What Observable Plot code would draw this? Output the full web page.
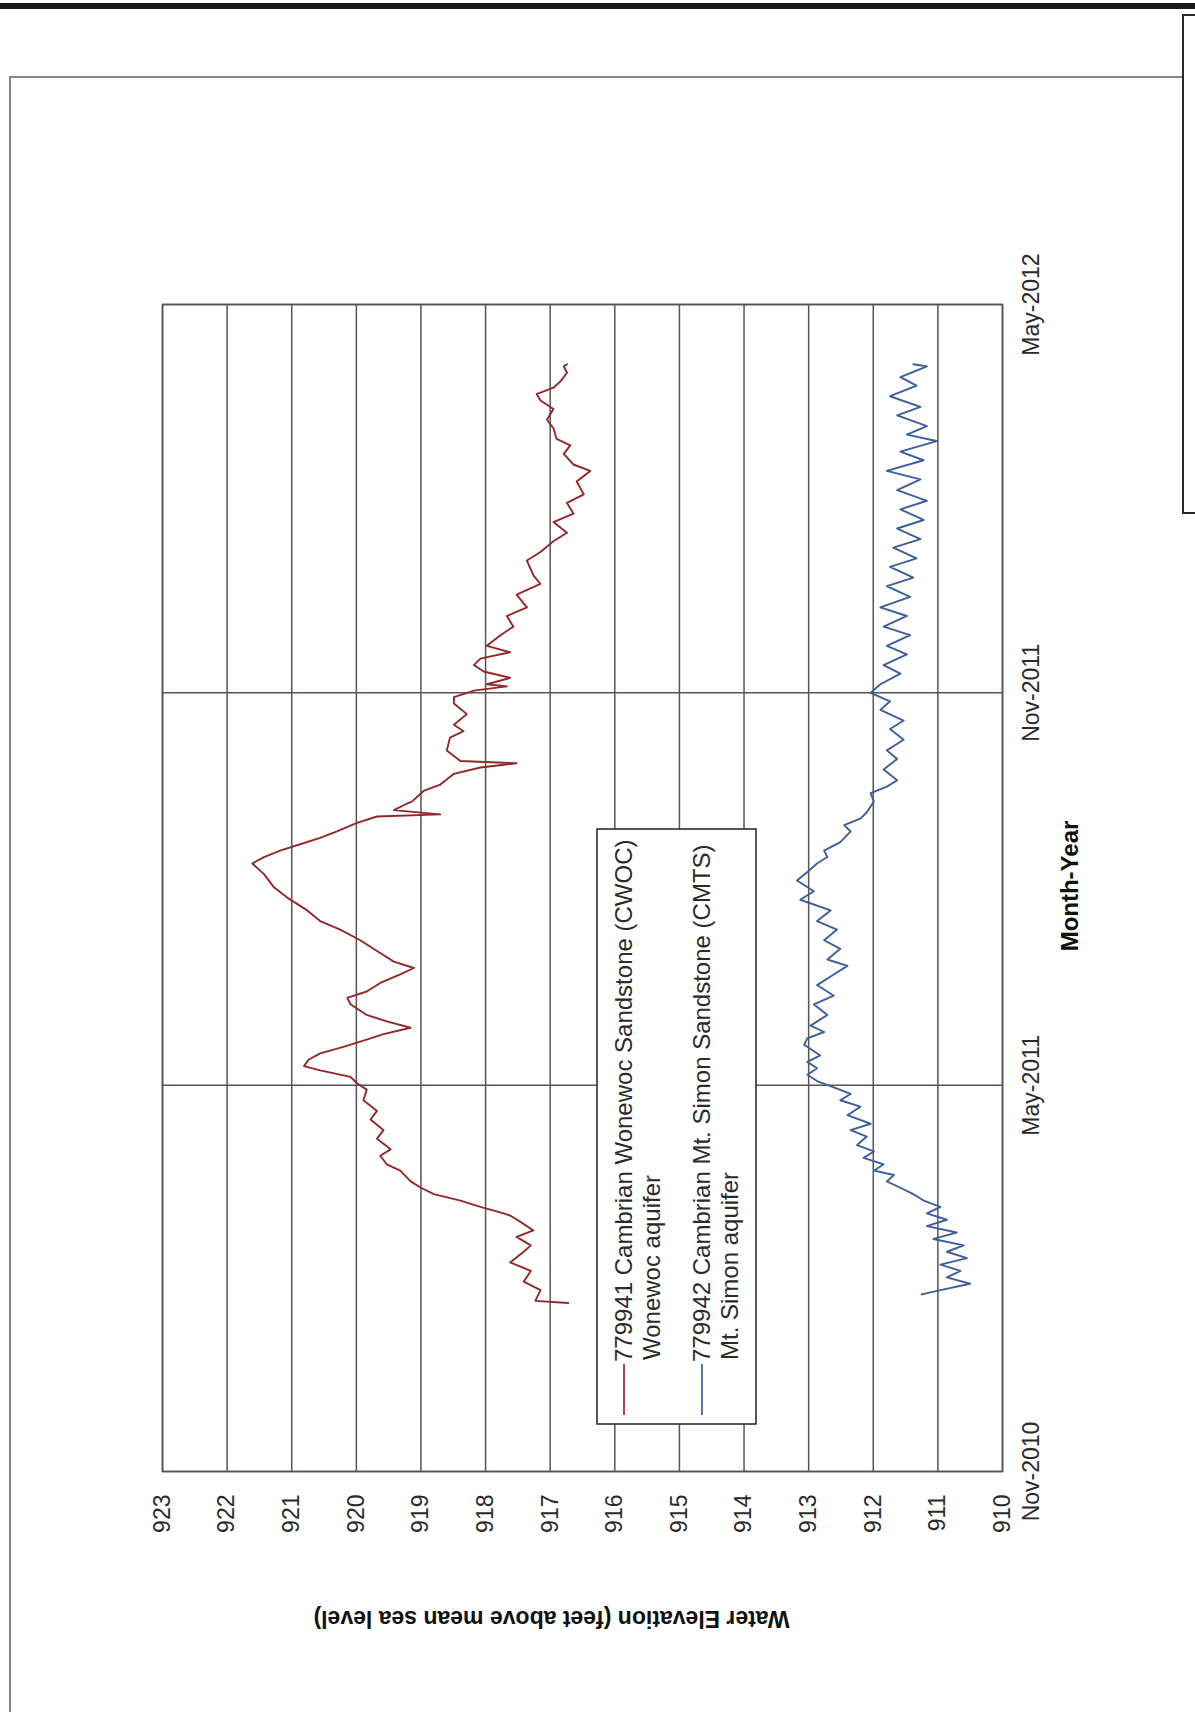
<!DOCTYPE html>
<html>
<head>
<meta charset="utf-8">
<script src="https://cdn.jsdelivr.net/npm/d3@7"></script>
<script src="https://cdn.jsdelivr.net/npm/@observablehq/plot@0.6"></script>
<style>
  html, body { margin: 0; padding: 0; background: #fff; }
  #page { position: relative; width: 1195px; height: 1712px; overflow: hidden; background: #fff;
          font-family: "Liberation Sans", Arial, sans-serif; }
  /* the landscape chart is turned a quarter turn counter-clockwise onto the portrait page */
  #chart { position: absolute; left: 0; top: 0; width: 1712px; height: 1195px;
           transform-origin: 0 0; transform: translate(0, 1712px) rotate(-90deg); }
  .topbar { position: absolute; left: 0; top: 3px; width: 1195px; height: 6px; background: #1b1b1b; }
  .frame { position: absolute; left: 9px; top: 76px; width: 1172px; height: 1660px;
           border-top: 2px solid #858585; border-left: 2px solid #858585; }
  .sidebox { position: absolute; left: 1182px; top: 14px; width: 40px; height: 496px; border: 2px solid #2a2a2a; }
</style>
</head>
<body>
<div id="page">
  <div id="chart"></div>
  <div class="topbar"></div>
  <div class="frame"></div>
  <div class="sidebox"></div>
</div>
<script>
// Axis ticks
const xTickDates = ["2010-11-01", "2011-05-01", "2011-11-01", "2012-05-01"];
const yTicks = [910, 911, 912, 913, 914, 915, 916, 917, 918, 919, 920, 921, 922, 923];

// Series names
const seriesTitles = ["779941 Cambrian Wonewoc Sandstone (CWOC)", "779942 Cambrian Mt. Simon Sandstone (CMTS)"];
const seriesSubtitles = ["Wonewoc aquifer", "Mt. Simon aquifer"];
const seriesColors = ["#93282a", "#3d5e9c"];

// 779941 — Cambrian Wonewoc Sandstone water level (ft above MSL)
const cwocDates = [
  "2011-01-19","2011-01-20","2011-01-25","2011-01-29","2011-02-03","2011-02-07","2011-02-12","2011-02-15",
  "2011-02-19","2011-02-22","2011-02-26","2011-03-01","2011-03-02","2011-03-05","2011-03-08","2011-03-11",
  "2011-03-14","2011-03-17","2011-03-22","2011-03-25","2011-03-29","2011-04-01","2011-04-06","2011-04-10",
  "2011-04-15","2011-04-19","2011-04-24","2011-04-29","2011-05-02","2011-05-05","2011-05-08","2011-05-10",
  "2011-05-13","2011-05-16","2011-05-19","2011-05-22","2011-05-25","2011-05-28","2011-05-31","2011-06-03",
  "2011-06-08","2011-06-11","2011-06-14","2011-06-18","2011-06-22","2011-06-25","2011-06-28","2011-07-03",
  "2011-07-08","2011-07-13","2011-07-17","2011-07-22","2011-07-28","2011-08-02","2011-08-08","2011-08-13",
  "2011-08-16","2011-08-19","2011-08-22","2011-08-25","2011-08-28","2011-09-01","2011-09-04","2011-09-05",
  "2011-09-07","2011-09-10","2011-09-11","2011-09-16","2011-09-19","2011-09-24","2011-09-27","2011-09-29",
  "2011-09-30","2011-10-05","2011-10-11","2011-10-14","2011-10-17","2011-10-22","2011-10-27","2011-10-30",
  "2011-11-02","2011-11-04","2011-11-05","2011-11-08","2011-11-11","2011-11-14","2011-11-17","2011-11-20",
  "2011-11-23","2011-11-28","2011-12-02","2011-12-07","2011-12-11","2011-12-17","2011-12-22","2011-12-26",
  "2012-01-02","2012-01-06","2012-01-11","2012-01-15","2012-01-20","2012-01-24","2012-01-29","2012-02-02",
  "2012-02-08","2012-02-13","2012-02-16","2012-02-21","2012-02-25","2012-02-28","2012-03-04","2012-03-08",
  "2012-03-13","2012-03-17","2012-03-20","2012-03-23","2012-03-26","2012-03-30","2012-04-02","2012-04-03"
];
const cwocLevels = [
  916.72, 917.23, 917.15, 917.41, 917.30, 917.62, 917.41, 917.30,
  917.52, 917.26, 917.46, 917.62, 917.72, 918.08, 918.39, 918.80,
  919.00, 919.16, 919.32, 919.53, 919.63, 919.47, 919.68, 919.58,
  919.78, 919.68, 919.89, 919.84, 919.99, 920.09, 920.56, 920.81,
  920.74, 920.56, 920.20, 919.89, 919.58, 919.16, 919.53, 919.84,
  920.09, 920.14, 919.84, 919.63, 919.32, 919.11, 919.42, 919.68,
  919.94, 920.25, 920.56, 920.76, 921.07, 921.28, 921.43, 921.61,
  921.43, 921.18, 920.87, 920.56, 920.30, 919.99, 919.68, 918.70,
  919.42, 919.22, 919.14, 918.96, 918.70, 918.49, 918.08, 917.52,
  918.39, 918.60, 918.55, 918.34, 918.49, 918.29, 918.49, 918.49,
  918.18, 917.67, 917.98, 917.62, 918.03, 918.18, 918.08, 917.62,
  917.98, 917.77, 917.57, 917.67, 917.36, 917.52, 917.15, 917.26,
  917.36, 917.15, 916.95, 916.74, 916.95, 916.64, 916.74, 916.48,
  916.59, 916.38, 916.64, 916.79, 916.69, 916.90, 916.95, 917.05,
  916.95, 917.15, 917.21, 916.95, 916.84, 916.74, 916.79, 916.74
];

// 779942 — Cambrian Mt. Simon Sandstone water level (ft above MSL)
const cmtsDates = [
  "2011-01-23","2011-01-25","2011-01-28","2011-01-31","2011-02-03","2011-02-06","2011-02-09","2011-02-12",
  "2011-02-15","2011-02-18","2011-02-21","2011-02-24","2011-02-27","2011-03-02","2011-03-05","2011-03-08",
  "2011-03-11","2011-03-14","2011-03-17","2011-03-20","2011-03-22","2011-03-25","2011-03-28","2011-03-31",
  "2011-04-03","2011-04-07","2011-04-10","2011-04-13","2011-04-17","2011-04-21","2011-04-24","2011-04-27",
  "2011-04-30","2011-05-03","2011-05-06","2011-05-09","2011-05-12","2011-05-15","2011-05-20","2011-05-23",
  "2011-05-26","2011-05-29","2011-06-03","2011-06-08","2011-06-12","2011-06-17","2011-06-21","2011-06-26",
  "2011-06-29","2011-07-04","2011-07-08","2011-07-13","2011-07-17","2011-07-22","2011-07-27","2011-07-31",
  "2011-08-05","2011-08-09","2011-08-13","2011-08-16","2011-08-19","2011-08-23","2011-08-28","2011-08-31",
  "2011-09-03","2011-09-06","2011-09-11","2011-09-15","2011-09-18","2011-09-21","2011-09-26","2011-10-01",
  "2011-10-05","2011-10-10","2011-10-15","2011-10-19","2011-10-24","2011-10-28","2011-11-01","2011-11-05",
  "2011-11-10","2011-11-14","2011-11-19","2011-11-23","2011-11-28","2011-12-02","2011-12-07","2011-12-11",
  "2011-12-16","2011-12-21","2011-12-25","2011-12-30","2012-01-03","2012-01-08","2012-01-12","2012-01-17",
  "2012-01-21","2012-01-26","2012-01-30","2012-02-04","2012-02-09","2012-02-13","2012-02-18","2012-02-22",
  "2012-02-27","2012-03-01","2012-03-05","2012-03-10","2012-03-14","2012-03-19","2012-03-24","2012-03-28",
  "2012-04-02","2012-04-03"
];
const cmtsLevels = [
  911.25, 910.96, 910.50, 910.86, 910.65, 910.96, 910.55, 910.86,
  910.60, 911.07, 910.71, 911.17, 910.86, 911.17, 910.96, 911.22,
  911.38, 911.58, 911.79, 911.68, 911.99, 911.84, 912.15, 911.99,
  912.25, 912.10, 912.35, 912.04, 912.40, 912.20, 912.51, 912.35,
  912.61, 912.87, 913.02, 912.87, 913.02, 912.82, 913.07, 913.02,
  912.76, 912.97, 912.71, 912.92, 912.61, 912.87, 912.66, 912.40,
  912.71, 912.51, 912.76, 912.56, 912.87, 912.66, 913.13, 912.92,
  913.18, 913.02, 912.87, 912.71, 912.76, 912.51, 912.35, 912.45,
  912.20, 912.10, 911.99, 912.04, 911.79, 911.63, 911.84, 911.63,
  911.79, 911.53, 911.74, 911.53, 911.89, 911.74, 912.04, 911.89,
  911.58, 911.84, 911.48, 911.79, 911.43, 911.84, 911.48, 911.89,
  911.43, 911.79, 911.38, 911.74, 911.33, 911.69, 911.27, 911.63,
  911.22, 911.58, 911.17, 911.63, 911.27, 911.79, 911.22, 911.58,
  911.02, 911.48, 911.17, 911.63, 911.27, 911.74, 911.33, 911.58,
  911.17, 911.38
];

const parse = d3.utcParse("%Y-%m-%d");
const xTicks = xTickDates.map(parse);
const cwoc = cwocDates.map((d, i) => ({date: parse(d), level: cwocLevels[i]}));
const cmts = cmtsDates.map((d, i) => ({date: parse(d), level: cmtsLevels[i]}));

const W = 1712, H = 1195;
const gridColor = "#5b5353";
const textColor = "#2b2b2b";
const font = "'Liberation Sans', Arial, sans-serif";

const chart = Plot.plot({
  width: W,
  height: H,
  marginLeft: 240,
  marginRight: 305,
  marginTop: 162,
  marginBottom: 193,
  style: {maxWidth: "none", width: W + "px", height: H + "px", color: textColor,
          fontFamily: font, fontSize: "23px", background: "transparent", overflow: "visible"},
  x: {type: "utc", domain: [xTicks[0], xTicks[xTicks.length - 1]], ticks: xTicks,
      tickFormat: d3.utcFormat("%b-%Y"), tickSize: 0, tickPadding: 20, label: null},
  y: {domain: [yTicks[0], yTicks[yTicks.length - 1]], ticks: yTicks,
      tickSize: 0, tickPadding: 23, label: null},
  marks: [
    Plot.gridX(xTicks, {stroke: gridColor, strokeOpacity: 1, strokeWidth: 1.5}),
    Plot.gridY(yTicks, {stroke: gridColor, strokeOpacity: 1, strokeWidth: 1.5}),
    Plot.frame({stroke: gridColor, strokeWidth: 1.6}),
    Plot.line(cwoc, {x: "date", y: "level", stroke: seriesColors[0], strokeWidth: 1.9}),
    Plot.line(cmts, {x: "date", y: "level", stroke: seriesColors[1], strokeWidth: 1.9}),
    Plot.text(["Water Elevation (feet above mean sea level)"], {
      frameAnchor: "left", rotate: -90, dx: -147, dy: -31,
      textAnchor: "middle", lineAnchor: "middle",
      fontWeight: "bold", fontSize: 23, fill: "#111"
    }),
    Plot.text(["Month-Year"], {
      frameAnchor: "bottom", dx: 2, dy: 68, textAnchor: "middle", lineAnchor: "middle",
      fontWeight: "bold", fontSize: 24, fill: "#111"
    })
  ]
});

// Legend box inside the plot area
const svg = d3.select(chart);
const legend = svg.append("g")
  .attr("font-family", font).attr("font-size", 24)
  .attr("text-anchor", "start").attr("fill", textColor);
legend.append("rect")
  .attr("x", 288).attr("y", 597).attr("width", 595).attr("height", 159)
  .attr("fill", "#fff").attr("stroke", "#2e2e2e").attr("stroke-width", 1.6);
const rowY = [624, 702];
seriesTitles.forEach((title, i) => {
  legend.append("line")
    .attr("x1", 297).attr("x2", 348).attr("y1", rowY[i]).attr("y2", rowY[i])
    .attr("stroke", seriesColors[i]).attr("stroke-width", 1.7);
  legend.append("text").attr("x", 350).attr("y", rowY[i]).attr("dy", "0.35em").text(title);
  legend.append("text").attr("x", 352).attr("y", rowY[i] + 28).attr("dy", "0.35em").text(seriesSubtitles[i]);
});

document.getElementById("chart").appendChild(chart);
</script>
</body>
</html>
